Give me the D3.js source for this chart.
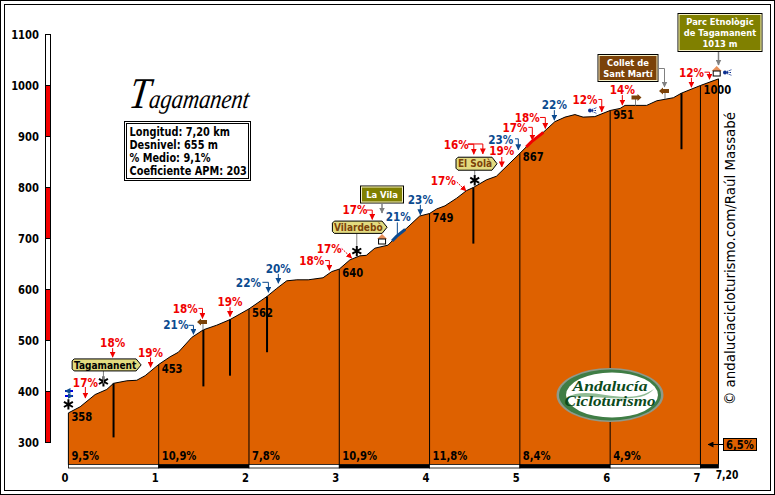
<!DOCTYPE html>
<html>
<head>
<meta charset="utf-8">
<script src="https://cdn.jsdelivr.net/npm/d3@7"></script>
<style>
  html, body { margin: 0; padding: 0; background: #fff; }
  svg { display: block; }
  text { font-family: "DejaVu Sans", sans-serif; font-weight: bold; font-size: 11.5px; fill: #000; }
</style>
</head>
<body>
<svg id="chart"></svg>
<script>
const profileKm = [0, 0.13, 0.296, 0.425, 0.5, 0.647, 0.757, 0.85, 1, 1.126, 1.218, 1.366, 1.495, 1.643, 1.79, 2, 2.197, 2.307, 2.418, 2.53, 2.656, 2.82, 2.915, 3, 3.117, 3.228, 3.3, 3.394, 3.54, 3.634, 3.745, 3.89, 4, 4.08, 4.17, 4.3, 4.41, 4.485, 4.63, 4.74, 5, 5.13, 5.24, 5.387, 5.5, 5.61, 5.7, 5.83, 6, 6.11, 6.165, 6.405, 6.516, 6.7, 6.79, 7, 7.2];
const profileElev = [358, 370, 394, 404, 416, 421, 422, 431, 453, 468, 477, 506, 521, 530, 541, 562, 586, 602, 617, 619, 619, 623, 635, 640, 658, 666, 667, 681, 687, 704, 720, 744, 749, 758, 764, 779, 794, 800, 815, 822, 867, 890, 905, 929, 938, 943, 938, 939, 951, 955, 961, 961, 970, 976, 985, 1000, 1013];

const kmTicks = [0, 1, 2, 3, 4, 5, 6, 7];
const elevTicks = [300, 400, 500, 600, 700, 800, 900, 1000, 1100];
const segmentGrades = ["9,5%", "10,9%", "7,8%", "10,9%", "11,8%", "8,4%", "4,9%"];
const lastGrade = "6,5%";

const summitKm = [0, 1, 2, 3, 4, 5, 6, 7];
const summitLabels = ["358", "453", "562", "640", "749", "867", "951", "1000"];
const infoLines = ["Longitud: 7,20 km", "Desnivel: 655 m", "% Medio: 9,1%", "Coeficiente APM: 203"];

const rampKm = [0.188, 0.49, 0.91, 1.385, 1.485, 1.79, 2.215, 2.325, 2.89, 3.138, 3.365, 3.643, 3.898, 4.404, 4.49, 4.59, 4.8, 4.983, 5.138, 5.282, 5.382, 5.907, 6.135, 6.9, 7.1];
const rampText = ["17%", "18%", "19%", "21%", "18%", "19%", "22%", "20%", "18%", "17%", "17%", "21%", "23%", "17%", "16%", "", "19%", "23%", "17%", "18%", "22%", "12%", "14%", "12%", ""];
const blackBarKm = [0.5, 1.495, 1.79, 2.2, 4.485, 6.79];
const blackBarBottom = [310, 410, 431, 477, 690, 875];
const blueStretchKm = [3.585, 3.634, 3.73];
const redStretchKm = [5.07, 5.13, 5.24, 5.26];

// layout of the callouts, one row for each ramp: kind, gap above profile, rise, run, text dx, text dy
const rampLayout = [
  ["d", 4.5, 11, 0, 0, -15], ["d", 27, 9, 0, 0, -14.5], ["d", 4, 9.7, 0, 0, -14.4], ["e", 2, 9, 5, -17.6, -9],
  ["e", 12, 10, 4, -17.3, -9.3], ["d", 3, 9.4, 0, 0, -14.4], ["e", 3, 10, 6, -20, -9.7], ["d", 4, 9.4, 0, 0, -14.4],
  ["e", 3, 9.7, 4.3, -17.6, -9.7], ["g", 1, 9.7, 10, -22.4, -9.7], ["e", 31, 9.3, 5.6, -17.3, -9.3], ["n", 0, 13.4, 0, 1, -19],
  ["d", 1, 10, 0, 0, -15], ["g", 0, 9, 9.3, -22.7, -9.7], ["e", 33, 10, 6, -17.6, -9], ["e", 28, 10, 15, 0, 0],
  ["d", 4, 10, 0, 0, -15.7], ["e", 5, 11, 3.3, -17.6, -10], ["e", 1, 12.7, 4, -17.3, -11.7], ["e", 2, 11, 5.3, -18, -10.4],
  ["d", 2, 10, 0, 0, -15], ["e", 2, 12.4, 3.4, -16.7, -11.7], ["d", 2, 10, 0, 0, -15], ["d", 2, 9.4, 0, 0, -14.7], ["e", 3, 7, 5, 0, 0]
];
const blueRamps = ["21%", "22%", "20%", "23%"];

const width = 775, height = 495;
const orange = "#de6100", olive = "#808000", brown = "#7b4209", pale = "#e3db80", blue = "#0b4a8f";

const svg = d3.select("#chart").attr("width", width).attr("height", height);

const x = d3.scaleLinear().domain([0, 7.2]).range([68.4, 718.5]);
const y = d3.scaleLinear().domain([300, 1100]).range([442.5, 34.5]);
const elevAt = d3.scaleLinear().domain(profileKm).range(profileElev);
const profile = profileKm.map((km, i) => ({ km: km, elev: profileElev[i] }));
const baseY = 464.5;

// double frame
svg.append("rect").attr("x", 0.5).attr("y", 0.5).attr("width", 774).attr("height", 494).attr("fill", "none").attr("stroke", "#000");
svg.append("rect").attr("x", 4.5).attr("y", 4.5).attr("width", 766).attr("height", 486).attr("fill", "none").attr("stroke", "#000");

// arrow heads
const defs = svg.append("defs");
[["red", "#f00000"], ["blue", blue], ["grey", "#808080"], ["black", "#000"]].forEach(m => {
  defs.append("marker").attr("id", "head-" + m[0])
    .attr("viewBox", "0 0 6 6").attr("refX", 5.5).attr("refY", 3)
    .attr("markerWidth", 6).attr("markerHeight", 6).attr("markerUnits", "userSpaceOnUse").attr("orient", "auto")
    .append("path").attr("d", "M0,0L6,3L0,6Z").attr("fill", m[1]);
});

// elevation bar on the left
const elevBar = svg.append("g");
elevTicks.slice(0, -1).forEach((t, i) => {
  elevBar.append("rect")
    .attr("x", 45.5).attr("width", 5)
    .attr("y", y(t + 100)).attr("height", y(t) - y(t + 100))
    .attr("fill", i % 2 === 0 ? "#f40000" : "#fff")
    .attr("stroke", "#000");
});

const yAxis = svg.append("g").attr("transform", "translate(42,0)")
  .call(d3.axisLeft(y).tickValues(elevTicks).tickSize(0).tickPadding(3).tickFormat(d3.format("d")));
yAxis.select(".domain").remove();

const xAxis = svg.append("g").attr("transform", `translate(-4,${baseY + 5})`)
  .call(d3.axisBottom(x).tickValues(kmTicks).tickSize(0).tickPadding(4).tickFormat(d3.format("d")));
xAxis.select(".domain").remove();
svg.append("text").attr("x", x(7.2) + 8.5).attr("y", 479).attr("text-anchor", "middle").attr("data-fit", 0.8).text("7,20");

// filled profile
const area = d3.area().x(d => x(d.km)).y0(baseY).y1(d => y(d.elev));
const line = d3.line().x(d => x(d.km)).y(d => y(d.elev));
svg.append("path").datum(profile).attr("d", area).attr("fill", orange);
svg.append("path").datum(profile).attr("d", line).attr("fill", "none").attr("stroke", "#000").attr("stroke-width", 1);

// km separators
svg.selectAll(".km-line")
  .data([0].concat(kmTicks.slice(1), [7.2]))
  .join("line")
  .attr("class", "km-line")
  .attr("x1", d => x(d)).attr("x2", d => x(d))
  .attr("y1", d => y(elevAt(d))).attr("y2", baseY)
  .attr("stroke", "#000").attr("stroke-width", 1);

// bottom strip
const stripEdges = kmTicks.concat([7.2]);
stripEdges.slice(0, -1).forEach((km, i) => {
  svg.append("rect")
    .attr("x", x(km)).attr("width", x(stripEdges[i + 1]) - x(km))
    .attr("y", baseY).attr("height", 3.5)
    .attr("fill", i % 2 === 0 ? "#fff" : "#000")
    .attr("stroke", "#000").attr("stroke-width", 0.8);
});

// thick bars for the other passes
svg.selectAll(".black-bar")
  .data(blackBarKm)
  .join("line")
  .attr("class", "black-bar")
  .attr("x1", d => x(d)).attr("x2", d => x(d))
  .attr("y1", d => y(elevAt(d))).attr("y2", (d, i) => y(blackBarBottom[i]))
  .attr("stroke", "#000").attr("stroke-width", 2);

// steep stretches painted over the line
[[blueStretchKm, blue], [redStretchKm, "#f00000"]].forEach(s => {
  svg.append("path").datum(s[0].map(km => ({ km: km, elev: elevAt(km) })))
    .attr("d", line).attr("fill", "none").attr("stroke", s[1]).attr("stroke-width", 3);
});

// segment grades and altitude labels
segmentGrades.forEach((g, i) => {
  svg.append("text").attr("x", x(i) + 3).attr("y", 460).text(g);
});
svg.selectAll(".summit")
  .data(summitKm)
  .join("text")
  .attr("class", "summit")
  .attr("x", d => x(d) + 3)
  .attr("y", d => y(elevAt(d)) + 4)
  .attr("dy", "0.36em")
  .text((d, i) => summitLabels[i]);

// last stretch grade box
svg.append("rect").attr("x", 723.5).attr("y", 438.5).attr("width", 33).attr("height", 12).attr("fill", orange).attr("stroke", "#000");
svg.append("text").attr("x", 740).attr("y", 448.5).attr("text-anchor", "middle").text(lastGrade);
svg.append("line").attr("x1", 723).attr("x2", 708).attr("y1", 444.5).attr("y2", 444.5).attr("stroke", "#000").attr("marker-end", "url(#head-black)");

// grade callouts
rampKm.forEach((km, i) => {
  const lay = rampLayout[i];
  const isBlue = blueRamps.includes(rampText[i]);
  const col = isBlue ? blue : "#f00000";
  const tx = x(km), ty = y(elevAt(km)) - lay[1];
  let d;
  if (lay[0] === "g") d = `M${tx - lay[3]},${ty - lay[2]}L${tx},${ty}`;
  else if (lay[0] === "e") d = `M${tx - lay[3]},${ty - lay[2]}L${tx},${ty - lay[2]}L${tx},${ty}`;
  else d = `M${tx},${ty - lay[2]}L${tx},${ty}`;
  const p = svg.append("path").attr("d", d).attr("fill", "none").attr("stroke", col);
  if (lay[0] !== "n") p.attr("marker-end", `url(#head-${isBlue ? "blue" : "red"})`);
  if (lay[0] === "g") p.attr("stroke-dasharray", "2 1");
  if (rampText[i]) {
    svg.append("text")
      .attr("x", tx + lay[4]).attr("y", ty + lay[5])
      .attr("dy", "0.36em").attr("text-anchor", "middle")
      .attr("data-fit", 0.91)
      .style("fill", col)
      .text(rampText[i]);
  }
});

// stars
const starKm = [0, 0.388, 3.194, 4.5];
const starGap = [8.5, 9.5, 6, 6.5];
starKm.forEach((km, i) => {
  svg.append("path")
    .attr("d", d3.symbol(d3.symbolAsterisk, 75)())
    .attr("transform", `translate(${x(km)},${y(elevAt(km)) - starGap[i]})`)
    .attr("fill", "none").attr("stroke", "#000").attr("stroke-width", 2);
});

// pennant signs
const pennants = [
  { label: "Tagamanent", km: 0.388, left: 31.3, right: 37.7, top: 32, bottom: 20, post: 12.5 },
  { label: "Vilardebò", km: 3.194, left: 24.4, right: 30.3, top: 36, bottom: 23.7, post: 12.5 },
  { label: "El Solà", km: 4.5, left: 18.7, right: 22.3, top: 29.5, bottom: 16.5, post: 5 }
];
pennants.forEach((s, i) => {
  const px = x(s.km), py = y(elevAt(s.km));
  const t = py - s.top, b = py - s.bottom, l = px - s.left, r = px + s.right;
  svg.append("line").attr("x1", px).attr("x2", px).attr("y1", b).attr("y2", b + s.post).attr("stroke", "#808080");
  svg.append("path")
    .attr("d", `M${l + 2},${t}L${r - 5},${t}L${r},${(t + b) / 2}L${r - 5},${b}L${l + 2},${b}L${l},${b - 2}L${l},${t + 2}Z`)
    .attr("fill", pale).attr("stroke", "#000");
  svg.append("text").attr("x", (l + r - 3) / 2).attr("y", (t + b) / 2).attr("dy", "0.36em")
    .attr("text-anchor", "middle").attr("data-fit", 0.9)
    .style("font-size", "10px").style("fill", i === 0 ? "#000" : brown).text(s.label);
});

// boxed signs
const boxes = [
  { lines: ["La Vila"], x0: 360.5, y0: 186, w: 43, h: 17, fill: olive },
  { lines: ["Collet de", "Sant Martí"], x0: 598, y0: 54.5, w: 60, h: 27, fill: brown },
  { lines: ["Parc Etnològic", "de Tagamanent", "1013 m"], x0: 678, y0: 13.5, w: 84, h: 38, fill: olive }
];
boxes.forEach(b => {
  svg.append("rect").attr("x", b.x0).attr("y", b.y0).attr("width", b.w).attr("height", b.h).attr("fill", b.fill).attr("stroke", "#000");
  svg.append("rect").attr("x", b.x0 + 1).attr("y", b.y0 + 1).attr("width", b.w - 2).attr("height", b.h - 2).attr("fill", "none").attr("stroke", "#f5f0c8");
  b.lines.forEach((t, i) => {
    svg.append("text").attr("x", b.x0 + b.w / 2).attr("y", b.y0 + b.h / 2 + (i - (b.lines.length - 1) / 2) * 11)
      .attr("dy", "0.36em").attr("text-anchor", "middle").attr("data-fit", 0.88).style("font-size", "9.5px").style("fill", "#fff").text(t);
  });
});
svg.append("path").attr("d", "M382,203V213").attr("stroke", "#808080").attr("fill", "none").attr("stroke-width", 1.5).attr("marker-end", "url(#head-grey)");
svg.append("path").attr("d", "M658.5,68.5H664.5V87").attr("stroke", "#808080").attr("fill", "none").attr("marker-end", "url(#head-grey)");
svg.append("path").attr("d", "M718.5,52V65").attr("stroke", "#808080").attr("fill", "none").attr("stroke-width", 1.5).attr("marker-end", "url(#head-grey)");

// houses
[[3.474, 240], [7.18, 72]].forEach(h => {
  const hx = x(h[0]), hy = h[1];
  svg.append("path").attr("d", `M${hx - 5},${hy - 1}L${hx},${hy - 6}L${hx + 5},${hy - 1}Z`).attr("fill", "#e8905a");
  svg.append("rect").attr("x", hx - 3.5).attr("y", hy - 1).attr("width", 7).attr("height", 5).attr("fill", "#fff").attr("stroke", "#000");
});

// little direction signs
[[665, 91, -1], [635.5, 97.5, 1], [203, 322, -1]].forEach(s => {
  const dir = s[2];
  svg.append("line").attr("x1", s[0]).attr("x2", s[0]).attr("y1", s[1]).attr("y2", s[1] + 8).attr("stroke", "#808080");
  svg.append("path").attr("d", `M${s[0] - 4 * dir},${s[1] - 2}H${s[0] + 2 * dir}V${s[1] - 3.5}L${s[0] + 6 * dir},${s[1]}L${s[0] + 2 * dir},${s[1] + 3.5}V${s[1] + 2}H${s[0] - 4 * dir}Z`).attr("fill", brown);
});

// water symbols
[[590, 110.5], [725, 72.5]].forEach(w => {
  svg.append("circle").attr("cx", w[0]).attr("cy", w[1]).attr("r", 2).attr("fill", "#0b2f8f");
  svg.append("path").attr("d", `M${w[0] + 2},${w[1] - 1}L${w[0] + 7},${w[1] - 3}M${w[0] + 2},${w[1]}H${w[0] + 7}M${w[0] + 2},${w[1] + 1}L${w[0] + 7},${w[1] + 3}`)
    .attr("stroke", "#0b2f8f").attr("stroke-dasharray", "1.5 1");
});

// start arrows
svg.append("path").attr("d", "M73,391H65").attr("stroke", "#0000e0").attr("stroke-width", 2).attr("marker-end", "url(#head-blue)");
svg.append("path").attr("d", "M65,396H73").attr("stroke", "#0000e0").attr("stroke-width", 2).attr("marker-end", "url(#head-blue)");

// title and summary box
const title = svg.append("text").attr("transform", "translate(128,108) skewX(-8)").attr("data-fit", 0)
  .attr("textLength", 120).attr("lengthAdjust", "spacingAndGlyphs")
  .style("font-family", "Liberation Serif").style("font-style", "italic").style("font-weight", "normal");
title.append("tspan").style("font-size", "44px").text("T");
title.append("tspan").style("font-size", "27px").text("agamanent");

svg.append("rect").attr("x", 124.5).attr("y", 121.5).attr("width", 126).attr("height", 59).attr("fill", "#fff").attr("stroke", "#000");
svg.append("rect").attr("x", 126.5).attr("y", 123.5).attr("width", 122).attr("height", 55).attr("fill", "none").attr("stroke", "#000");
svg.selectAll(".info").data(infoLines).join("text").attr("class", "info")
  .attr("x", 129.5).attr("y", (d, i) => 132 + i * 13).attr("dy", "0.36em").attr("data-fit", 0.85)
  .text(d => d);

// vertical credit
svg.append("text").attr("transform", "translate(735,405) rotate(-90)").attr("data-fit", 0)
  .attr("textLength", 293).attr("lengthAdjust", "spacingAndGlyphs")
  .style("font-weight", "normal").style("font-size", "14px").text("© andaluciacicloturismo.com/Raúl Massabé");

// logo
const logo = svg.append("g").attr("transform", "translate(610,395)");
logo.append("ellipse").attr("rx", 53.5).attr("ry", 27).attr("fill", "#8d9a8c");
logo.append("ellipse").attr("rx", 51).attr("ry", 25.5).attr("fill", "#3f7d45");
logo.append("ellipse").attr("cx", 2).attr("rx", 46).attr("ry", 22.5).attr("fill", "#fff");
logo.append("path").attr("d", "M-44,3C-20,-12,15,14,44,-6C30,12,-20,-2,-44,3Z").attr("fill", "#8fbb94");
[["Andalucía", -4, 75], ["Cicloturismo", 11, 91]].forEach(l => {
  logo.append("text").attr("x", 0).attr("y", l[1]).attr("text-anchor", "middle").attr("data-fit", 0)
    .attr("textLength", l[2]).attr("lengthAdjust", "spacingAndGlyphs")
    .style("font-family", "Liberation Serif").style("font-style", "italic").style("font-size", "14px").style("fill", "#0c4a1c").text(l[0]);
});

// squeeze the labels so the tall bold letters take the narrow widths of the reference
svg.selectAll("text").each(function () {
  const el = d3.select(this);
  const fit = el.attr("data-fit") === null ? 0.87 : +el.attr("data-fit");
  if (fit > 0) el.attr("textLength", this.getComputedTextLength() * fit).attr("lengthAdjust", "spacingAndGlyphs");
});
</script>
</body>
</html>
